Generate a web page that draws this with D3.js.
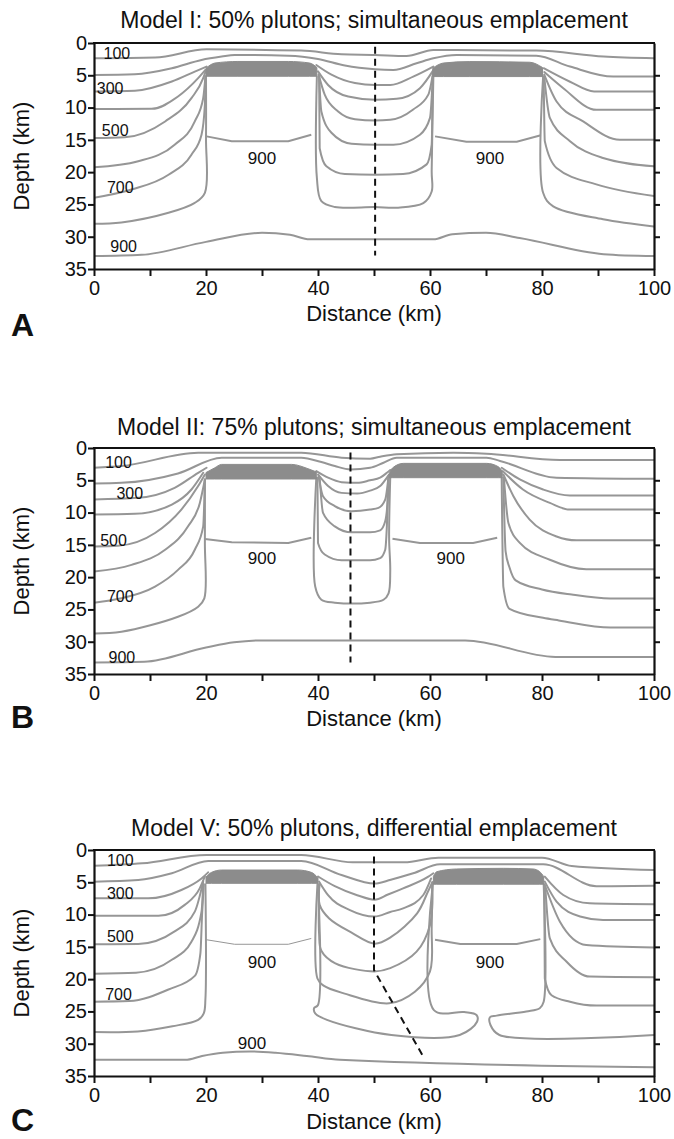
<!DOCTYPE html>
<html>
<head>
<meta charset="utf-8">
<script src="https://cdn.jsdelivr.net/npm/d3@7"></script>
<style>
  body { margin: 0; background: #fff; }
  svg { display: block; font-family: "Liberation Sans", Arial, Helvetica, sans-serif; }
</style>
</head>
<body>
<svg id="fig" width="674" height="1139"></svg>
<script>
// ---- data (distance km, depth km) ----
const titles = [
  "Model I: 50% plutons; simultaneous emplacement",
  "Model II: 75% plutons; simultaneous emplacement",
  "Model V: 50% plutons, differential emplacement"
];
const panelLetters = ["A", "B", "C"];
const depthTicks = [0, 5, 10, 15, 20, 25, 30, 35];
const distanceTicks = [0, 10, 20, 30, 40, 50, 60, 70, 80, 90, 100];
const distanceLabels = [0, 20, 40, 60, 80, 100];

// Model I isotherms 100..900 C (pieces between plutons listed separately)
const isothermsI = [
  [[0,2.37],[10.9,2.26],[20.1,0.98],[37,1.18],[44.2,1.75],[50.2,1.85],[55.8,2.0],[60.6,1.08],[79,1.18],[91,2.1],[100,2.37]],
  [[0,4.94],[7.3,4.84],[13.9,3.91],[19.2,2.62],[22.8,2.1],[25.1,1.85],[34.7,1.96],[40,2.47],[44.8,3.5],[50.2,4.07],[53.45,4.17],[57.6,3.14],[60.6,2.37],[64.75,1.85],[79,1.96],[85,3.65],[92.7,5.2],[100,5.2]],
  [[0,7.51],[7.3,7.4],[13.9,5.97],[18.0,4.43],[20.1,3.65]],
  [[39.7,3.4],[42.4,4.9],[46.6,6.2],[50.2,6.5],[52.9,6.5],[57.0,5.2],[60.6,3.65]],
  [[80.3,3.9],[85.0,6.0],[89.3,7.5],[100,7.5]],
  [[0,10.24],[10.3,10.19],[15.0,8.29],[18.6,5.45],[19.9,4.17]],
  [[40.0,4.4],[41.8,6.5],[45.4,8.3],[50.2,8.8],[54.05,8.65],[58.2,7.0],[60.6,4.2]],
  [[80.4,4.5],[83.8,7.0],[89.7,10.35],[100,10.35]],
  [[0,14.72],[5.5,14.6],[12.7,12.15],[17.4,8.54],[19.5,5.45],[19.9,4.43]],
  [[40.1,4.9],[41.2,8.0],[43.6,10.6],[46.6,11.8],[50.2,12.0],[52.9,11.9],[57.0,10.3],[59.7,8.0],[60.6,4.4]],
  [[80.4,4.9],[82.6,9.06],[87.35,12.15],[93.9,15.0],[100,15.0]],
  [[0,19.25],[7.9,18.3],[14.4,15.75],[18.0,12.15],[19.5,8.54],[19.9,5.2]],
  [[40.2,5.2],[40.6,10.6],[42.4,13.9],[46.0,15.6],[50.2,15.75],[53.45,15.75],[58.2,14.2],[60.0,11.6],[60.5,5.2]],
  [[80.4,5.2],[81.4,11.6],[85.0,15.2],[90.9,17.8],[100,19.1]],
  [[0,23.98],[6.7,22.7],[13.3,20.4],[17.4,17.3],[19.2,14.2],[19.8,9.57],[19.9,5.2]],
  [[40.2,5.2],[40.3,16.3],[41.5,19.1],[44.8,20.3],[50.2,20.4],[55.2,20.3],[59.4,18.8],[60.3,15.75],[60.5,5.2]],
  [[80.3,5.2],[80.5,15.2],[82.6,19.35],[89.7,21.9],[100,23.7]],
  [[0,28.0],[4.9,27.8],[13.3,26.3],[18.0,24.76],[19.8,23.2],[20.0,14.7],[20.0,5.2]],
  [[39.8,5.2],[39.8,20.9],[40.6,24.5],[43.0,25.4],[50.2,25.4],[54.05,25.5],[58.8,24.8],[60.3,23.0],[60.3,19.9],[60.6,5.2]],
  [[80.2,5.2],[80.2,23.2],[82.0,25.3],[90.9,27.3],[100,28.4]],
  [[0,33.0],[8.5,32.8],[20,30.8],[30,29.4],[35,29.7],[38.5,30.4],[50,30.4],[60.6,30.4],[64,29.6],[70,29.4],[76,30.2],[91,32.7],[100,33.0]]
];
const roofsI = [
  [[[20.0,3.9],[21.6,3.1],[25.7,2.86],[34.7,2.86],[38.5,3.1],[39.8,3.8]], 5.15],
  [[[60.5,3.9],[62.4,3.1],[67.1,2.88],[77.8,2.98],[80.1,3.8]], 5.2]
];
const coresI = [
  [[20.1,14.46],[24.6,15.2],[34.7,15.2],[38.8,14.2]],
  [[60.9,14.46],[66.5,15.3],[75.5,15.3],[79.8,14.3]]
];
const labelsI = [
  [1.7,2.47,"100"],[0.5,7.93,"300"],[1.4,14.46,"500"],[2.3,23.3,"700"],[2.9,32.4,"900"],
  [30.0,18.7,"900"],[70.7,18.7,"900"]
];
const dividerI = [[50.2,0.6],[50.2,32.9]];

// Model II
const isothermsII = [
  [[0,3.06],[4.9,2.8],[18.6,0.73],[37,0.73],[44.2,1.5],[49.3,1.66],[51.1,1.35],[54.05,0.98],[64.2,0.73],[70.1,0.88],[83.2,1.87],[100,1.87]],
  [[0,5.5],[4.9,5.4],[15.0,3.94],[22.8,1.5],[37.0,1.5],[40.6,2.18],[43.0,2.8],[45.8,3.32],[49.3,3.06],[51.7,2.28],[54.05,1.5],[70.1,1.5],[72.5,2.0],[82.6,4.6],[100,4.77]],
  [[0,7.98],[7.9,7.72],[14.4,6.17],[18.6,3.84],[20.1,3.06]],
  [[39.7,3.58],[41.8,4.6],[44.2,5.29],[47,5.4],[49.3,5.0],[51.1,4.6],[52.3,3.84],[52.9,3.4]],
  [[72.8,3.06],[76.04,4.87],[80.2,6.43],[84.97,7.36],[100,7.36]],
  [[0,10.3],[7.3,10.2],[13.9,8.76],[17.4,6.43],[19.5,3.84]],
  [[40.0,4.1],[41.8,5.9],[44.2,6.95],[47,7.05],[49.3,6.6],[51.1,5.9],[52.3,4.6],[52.7,4.1]],
  [[73.0,3.58],[76.6,6.43],[81.4,8.5],[84.97,9.54],[100,9.54]],
  [[0,15.24],[4.3,15.14],[10.9,13.17],[15.6,9.54],[18.6,5.9],[19.8,4.1]],
  [[40.1,4.35],[40.9,7.46],[43.0,9.0],[46.0,9.8],[49.3,9.54],[50.8,9.28],[52.0,8.0],[52.6,4.35]],
  [[73.1,4.1],[74.9,7.46],[77.8,11.1],[82.6,13.7],[86.16,14.3],[100,14.3]],
  [[0,19.13],[6.7,18.1],[12.7,15.76],[16.8,12.13],[18.9,8.5],[19.8,4.87]],
  [[40.3,4.6],[40.9,10.06],[43.0,12.13],[46.0,13.06],[49.3,13.06],[51.1,12.75],[52.0,11.35],[52.4,8.5],[52.6,4.6]],
  [[73.2,4.6],[74.0,11.6],[76.04,14.7],[81.4,17.3],[87.9,18.77],[100,18.77]],
  [[0,23.95],[4.9,23.28],[10.9,21.46],[15.0,18.87],[18.0,15.76],[19.5,12.13],[19.8,4.87]],
  [[39.9,4.6],[40.0,14.7],[41.2,16.5],[44.2,17.4],[49.3,17.4],[51.1,17.06],[52.0,15.76],[52.3,12.1],[52.6,4.6]],
  [[73.1,4.6],[73.5,16],[74.2,18.5],[75.3,20.5],[80,21.9],[85.3,22.7],[92.2,23.3],[100,23.3]],
  [[0,28.72],[4.9,28.46],[15.0,26.13],[18.6,24.57],[19.7,23.28],[19.8,14.7],[19.8,4.87]],
  [[39.7,4.6],[39.5,21.46],[40.6,23.5],[43.0,23.95],[49.3,23.95],[51.7,23.5],[52.6,22.5],[52.9,19],[52.7,14],[52.9,4.6]],
  [[72.8,4.6],[73.1,21.5],[74.2,24.9],[80.2,26.3],[83.0,26.7],[92.2,27.8],[100,27.8]],
  [[0,33.2],[9,33.1],[20,30.9],[25,30.1],[30,29.8],[66.3,29.8],[82.4,32.35],[100,32.35]]
];
const roofsII = [
  [[[20.0,3.8],[21.5,3.1],[22.8,2.54],[35.3,2.54],[38.2,3.2],[39.7,3.7]], 4.8],
  [[[52.7,4.0],[53.3,3.1],[55.24,2.38],[70.1,2.38],[72.2,2.9],[72.9,3.6]], 4.6]
];
const coresII = [
  [[19.8,14.1],[24.6,14.6],[34.7,14.7],[38.8,13.9]],
  [[53.3,14.05],[58.2,14.7],[67.7,14.7],[72.0,13.9]]
];
const labelsII = [
  [2.0,3.16,"100"],[4.0,7.88,"300"],[1.1,15.1,"500"],[2.3,23.8,"700"],[2.6,33.3,"900"],
  [30.0,17.9,"900"],[63.7,17.9,"900"]
];
const dividerII = [[45.8,0.7],[45.8,33.2]];

// Model V
const isothermsV = [
  [[0,2.45],[8.6,2.07],[20.1,0.77],[37,0.77],[46.2,1.9],[50,1.9],[55.4,1.9],[61.5,1.19],[80,1.19],[85.3,2.48],[100,3.1]],
  [[0,4.9],[7.9,4.65],[13.9,3.6],[20.4,1.7],[37,1.7],[44.2,3.87],[50.1,5.2],[53,4.6],[57.0,3.61],[61.8,2.22],[80.2,2.22],[89.7,5.6],[100,5.55]],
  [[0,7.49],[9.7,7.49],[15.6,6.2],[19.2,4.4],[20.4,3.46]],
  [[40.0,4.1],[43,5.6],[47,7.0],[50.1,7.7],[52.5,6.9],[55.2,5.94],[59.7,4.13],[60.6,3.6]],
  [[80.5,4.13],[83.8,6.97],[88.5,8.26],[100,8.4]],
  [[0,10.2],[11.5,10.2],[16.2,8.5],[18.9,5.9],[19.8,4.1]],
  [[40.2,4.9],[41.8,7.0],[45.7,9.3],[50.1,10.3],[52.9,9.6],[55.2,9.04],[58.8,6.97],[60.2,4.4]],
  [[80.5,4.9],[82.6,8.0],[86.8,10.3],[90.9,10.84],[100,10.84]],
  [[0,14.6],[7.9,14.55],[14.4,12.6],[18.0,9.55],[19.5,4.9]],
  [[40.3,5.2],[40.3,8.5],[42,10.6],[46,12.8],[50.1,14.5],[53,13.5],[57.7,9.8],[59.6,6.5],[60.4,5.0]],
  [[80.5,5.42],[83.2,11.1],[87.9,14.7],[100,15.1]],
  [[0,19.15],[7.5,19.0],[13.9,17.0],[17.4,14.2],[19.2,9.55],[19.5,5.3]],
  [[40.2,5.3],[40.2,13],[40.6,15.6],[43.1,17.55],[50.1,18.8],[52.9,18.3],[57.6,15.75],[60.0,11.6],[60.4,5.0]],
  [[80.6,5.9],[81.4,13.7],[84.4,17.3],[88.5,19.6],[100,19.7]],
  [[0,23.5],[6.3,23.4],[13.3,21.6],[18.0,19.5],[19.0,16],[19.3,10],[19.6,5.3]],
  [[39.9,5.3],[39.9,19.9],[41,21],[44.6,22.2],[52.7,23.75],[57.3,21.95],[60.0,18.8],[60.3,12],[60.4,5.3]],
  [[80.4,5.3],[80.5,19.9],[81.7,22.5],[85.0,23.5],[89.7,24.1],[100,24.1]],
  [[0,28.2],[7.8,28.1],[14,27.3],[18.6,26.3],[19.6,25.3],[19.9,23],[19.9,5.3]],
  [[40.0,5.3],[40.0,24.0],[39.3,24.5],[39.5,25.3],[41.6,26.3],[53.1,28.65],[65.3,28.65],[68.4,26.6],[68.3,25.55],[66.1,25.1],[60.7,24.8],[60.5,5.3]],
  [[80.3,5.3],[80.3,23.5],[79.6,24.5],[77.2,25.0],[71.9,25.65],[70.7,25.9],[70.8,27.1],[72.4,28.65],[100,28.65]],
  [[0,32.5],[16.3,32.5],[19.3,31.9],[23,31.4],[27.8,31.2],[32.4,31.4],[38,31.9],[43.9,32.5],[100,33.65]]
];
const roofsV = [
  [[[20.0,4.2],[21.0,3.46],[22.8,3.1],[36.4,3.1],[38.8,3.46],[40.0,4.3]], 5.16],
  [[[60.6,4.1],[61.2,3.36],[64.75,2.94],[73.1,2.84],[78.4,2.94],[79.6,3.36],[80.3,4.1]], 5.3]
];
const coresV = [
  [[20.1,13.9],[25.1,14.6],[34.7,14.6],[38.8,13.7]],
  [[60.9,13.9],[65.4,14.56],[75.5,14.56],[79.7,13.8]]
];
const labelsV = [
  [2.3,2.48,"100"],[2.3,7.6,"300"],[2.3,14.2,"500"],[2.0,23.3,"700"],
  [28.2,30.8,"900"],[30.0,18.2,"900"],[70.7,18.2,"900"]
];
const dividerV = [[50,1.0],[50,18.6],[58.8,32.0]];

// ---- layout ----
const plotLeft = 94, plotRight = 654, plotH = 226;
const panelTop = [43, 448, 850];
const titleY = [28, 435, 836];
const xTitleY = [321, 726, 1129];
const letterY = [336, 728, 1131];
const lineGray = "#969696", roofGray = "#8c8c8c";

const panels = [
  { iso: isothermsI, roofs: roofsI, cores: coresI, labels: labelsI, divider: dividerI, thin: [] },
  { iso: isothermsII, roofs: roofsII, cores: coresII, labels: labelsII, divider: dividerII, thin: [] },
  { iso: isothermsV, roofs: roofsV, cores: coresV, labels: labelsV, divider: dividerV, thin: [0] }
];

const svg = d3.select("#fig");
const x = d3.scaleLinear().domain([0, 100]).range([plotLeft, plotRight]);

// monotone in distance -> smooth monotone curve, otherwise centripetal spline
const increasing = pts => pts.every((p, k) => k === 0 || p[0] > pts[k - 1][0]);

panels.forEach((p, i) => {
  const top = panelTop[i];
  const y = d3.scaleLinear().domain([0, 35]).range([top, top + plotH]);
  const g = svg.append("g");

  g.append("clipPath").attr("id", "clip" + i)
    .append("rect").attr("x", plotLeft).attr("y", top).attr("width", plotRight - plotLeft).attr("height", plotH);

  const plot = g.append("g").attr("clip-path", "url(#clip" + i + ")");

  const smooth = d3.line().x(d => x(d[0])).y(d => y(d[1])).curve(d3.curveMonotoneX);
  const spline = d3.line().x(d => x(d[0])).y(d => y(d[1])).curve(d3.curveCatmullRom.alpha(0.5));
  const flat = d3.line().x(d => x(d[0])).y(d => y(d[1]));

  // isotherms
  plot.selectAll("path.iso").data(p.iso).join("path")
    .attr("class", "iso")
    .attr("d", d => increasing(d) ? smooth(d) : spline(d))
    .attr("fill", "none").attr("stroke", lineGray).attr("stroke-width", 2)
    .attr("stroke-linejoin", "round").attr("stroke-linecap", "round");

  // compressed isotherms over pluton roofs
  plot.selectAll("path.roof").data(p.roofs).join("path")
    .attr("class", "roof")
    .attr("d", r => d3.area().x(d => x(d[0])).y1(d => y(d[1])).y0(y(r[1])).curve(d3.curveMonotoneX)(r[0]))
    .attr("fill", roofGray).attr("stroke", roofGray).attr("stroke-width", 1);

  // 900 isotherm inside plutons
  plot.selectAll("path.core").data(p.cores).join("path")
    .attr("class", "core")
    .attr("d", flat)
    .attr("fill", "none").attr("stroke", lineGray)
    .attr("stroke-width", (d, k) => p.thin.includes(k) ? 1 : 2);

  // isotherm labels
  g.selectAll("text.lab").data(p.labels).join("text")
    .attr("class", "lab")
    .attr("x", d => x(d[0])).attr("y", d => y(d[1]))
    .attr("text-anchor", d => d[0] > 10 ? "middle" : "start")
    .attr("font-size", d => d[0] > 10 ? 17 : 16).attr("fill", "#111")
    .text(d => d[2]);

  // divide line
  g.append("path").attr("d", flat(p.divider))
    .attr("fill", "none").attr("stroke", "#111").attr("stroke-width", 2)
    .attr("stroke-dasharray", "7,5");

  // axes
  const axL = g.append("g").attr("transform", `translate(${plotLeft},0)`)
    .call(d3.axisLeft(y).tickValues(depthTicks).tickSize(6).tickSizeOuter(0).tickPadding(1));
  const axB = g.append("g").attr("transform", `translate(0,${top + plotH})`)
    .call(d3.axisBottom(x).tickValues(distanceTicks).tickSize(7).tickSizeOuter(0).tickPadding(5)
      .tickFormat(d => distanceLabels.includes(d) ? d : ""));
  const axR = g.append("g").attr("transform", `translate(${plotRight},0)`)
    .call(d3.axisRight(y).tickValues(depthTicks.slice(1, -1)).tickSize(6).tickSizeOuter(0).tickFormat(""));
  g.append("line").attr("x1", plotLeft - 1).attr("x2", plotRight + 1)
    .attr("y1", top).attr("y2", top).attr("stroke", "#111").attr("stroke-width", 2.2);

  [axL, axB, axR].forEach(a => {
    a.select(".domain").attr("stroke", "#111").attr("stroke-width", 2.2);
    a.selectAll(".tick line").attr("stroke", "#111").attr("stroke-width", 2);
    a.selectAll("text").attr("font-size", 20).attr("fill", "#111")
      .attr("font-family", "\"Liberation Sans\", Arial, sans-serif");
  });

  // titles
  g.append("text").attr("x", (plotLeft + plotRight) / 2).attr("y", titleY[i])
    .attr("text-anchor", "middle").attr("font-size", 23).attr("fill", "#111").text(titles[i]);
  g.append("text").attr("x", (plotLeft + plotRight) / 2).attr("y", xTitleY[i])
    .attr("text-anchor", "middle").attr("font-size", 22).attr("fill", "#111").text("Distance (km)");
  g.append("text").attr("transform", `translate(29,${top + plotH / 2}) rotate(-90)`)
    .attr("text-anchor", "middle").attr("font-size", 22).attr("fill", "#111").text("Depth (km)");
  g.append("text").attr("x", 11).attr("y", letterY[i])
    .attr("font-size", 32).attr("font-weight", "bold").attr("fill", "#111").text(panelLetters[i]);
});
</script>
</body>
</html>
